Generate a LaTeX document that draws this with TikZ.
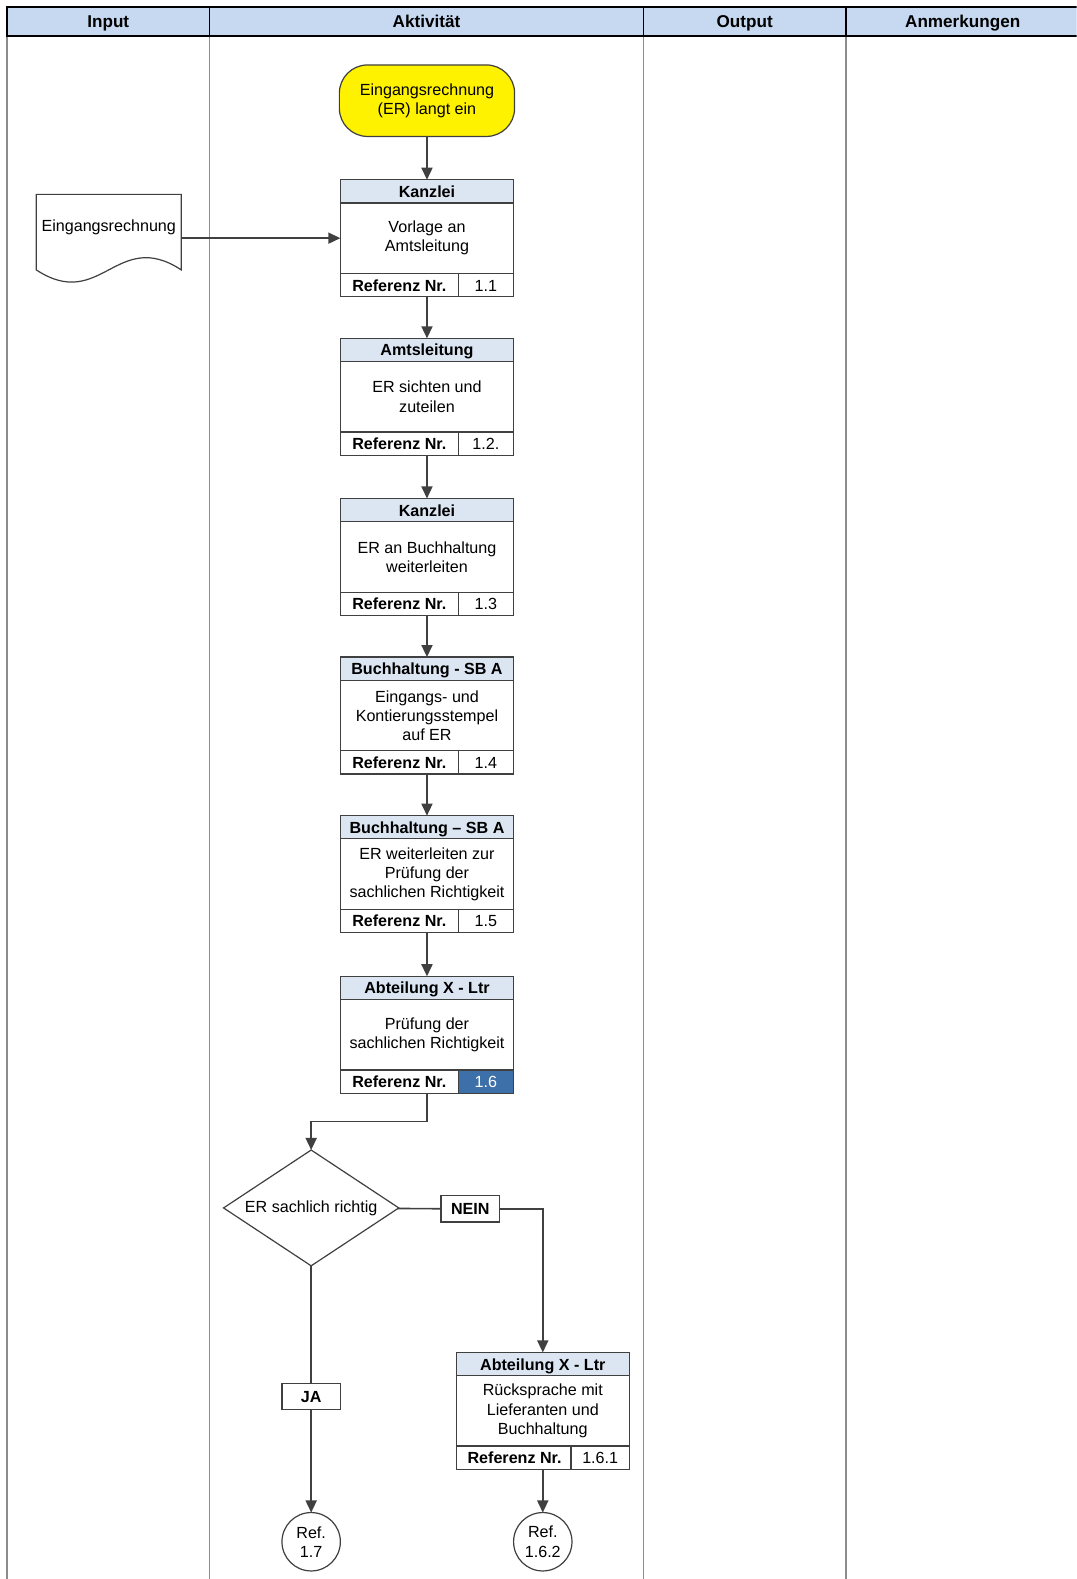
\documentclass[tikz,border=0pt]{standalone}
\usepackage{fontspec}
\setmainfont{Liberation Sans}
\usetikzlibrary{shapes.geometric,arrows.meta,positioning,calc}
\definecolor{fcdark}{RGB}{64,64,64}
\definecolor{fcgray}{RGB}{140,140,140}
\definecolor{fchead}{RGB}{198,217,241}
\definecolor{fcstrip}{RGB}{220,230,242}
\definecolor{fcblue}{RGB}{61,112,168}
\newcommand{\fcfont}{\fontsize{16}{19}\selectfont}

\begin{document}
\begin{tikzpicture}[x=1pt,y=-1pt,
  every node/.style={font=\fcfont,outer sep=0pt,inner sep=0pt},
  oneline/.style={text height=12pt,text depth=0pt},
  colhd/.style={oneline,draw=black,line width=1.5pt,fill=fchead,minimum height=29pt,
                font=\fontsize{17}{20}\selectfont\bfseries},
  col/.style={draw=fcgray,line width=1.2pt},
  hd/.style={oneline,draw=fcdark,line width=1.2pt,fill=fcstrip,minimum width=172pt,
             minimum height=23pt,font=\fcfont\bfseries},
  bd/.style={draw=fcdark,line width=1.2pt,fill=white,minimum width=172pt,
             minimum height=70pt,align=center},
  refl/.style={oneline,draw=fcdark,line width=1.2pt,fill=white,minimum width=117pt,
               minimum height=23pt,font=\fcfont\bfseries},
  refn/.style={oneline,draw=fcdark,line width=1.2pt,fill=white,minimum width=55pt,
               minimum height=23pt},
  term/.style={draw=fcdark,line width=1.2pt,fill=yellow,rounded corners=28pt,
               minimum width=174pt,minimum height=71pt,align=center},
  docbox/.style={minimum width=144pt,minimum height=75pt},
  docline/.style={draw=fcdark,line width=1.2pt,fill=white},
  dec/.style={diamond,aspect=1.5,draw=fcdark,line width=1.2pt,fill=white,
              minimum width=174pt,minimum height=115pt},
  tag/.style={oneline,draw=fcdark,line width=1.2pt,fill=white,minimum width=58pt,
              minimum height=26pt,font=\fcfont\bfseries},
  refc/.style={circle,draw=fcdark,line width=1.2pt,fill=white,minimum size=58pt,
               align=center},
  conn/.style={draw=fcdark,line width=1.6pt},
  arr/.style={conn,-{Triangle[length=12pt,width=11pt]}}]

  \useasboundingbox (0,0) rectangle (1069,1568);
  \clip (0,0) rectangle (1069,1568);

  % swimlanes
  \draw[col] (7,36) -- (7,1575);
  \draw[col] (208,36) -- (208,1575);
  \draw[col] (639,36) -- (639,1575);
  \draw[col] (840,36) -- (840,1575);
  \node[colhd,minimum width=201pt] (hin) at (107.5,21.5) {Input};
  \node[colhd,minimum width=431pt] (hakt) at (423.5,21.5) {Aktivität};
  \node[colhd,minimum width=201pt] (hout) at (739.5,21.5) {Output};
  \node[colhd,minimum width=232pt] (hanm) at (956,21.5) {Anmerkungen};

  % start
  \node[term] (start) at (424,100) {Eingangsrechnung\\(ER) langt ein};

  % input document
  \node[docbox] (doc) at (108,230.5) {};
  \draw[docline] (doc.south west) -- (doc.north west) -- (doc.north east) -- (doc.south east)
    .. controls ($(doc.south east)+(-64,-42)$) and ($(doc.south west)+(64,42)$) .. (doc.south west) -- cycle;
  \node (doctxt) at (108,226) {Eingangsrechnung};

  % 1.1
  \node[hd] (vorlh) at (424,190) {Kanzlei};
  \node[bd,below=0pt of vorlh] (vorlb) {Vorlage an\\Amtsleitung};
  \node[refl,anchor=north west] (vorll) at (vorlb.south west) {Referenz Nr.};
  \node[refn,anchor=north east] (vorln) at (vorlb.south east) {1.1};

  % 1.2
  \node[hd] (sichh) at (424,347.5) {Amtsleitung};
  \node[bd,below=0pt of sichh] (sichb) {ER sichten und\\zuteilen};
  \node[refl,anchor=north west] (sichl) at (sichb.south west) {Referenz Nr.};
  \node[refn,anchor=north east] (sichn) at (sichb.south east) {1.2.};

  % 1.3
  \node[hd] (weith) at (424,506.5) {Kanzlei};
  \node[bd,below=0pt of weith] (weitb) {ER an Buchhaltung\\weiterleiten};
  \node[refl,anchor=north west] (weitl) at (weitb.south west) {Referenz Nr.};
  \node[refn,anchor=north east] (weitn) at (weitb.south east) {1.3};

  % 1.4
  \node[hd] (stemh) at (424,664) {Buchhaltung - SB A};
  \node[bd,below=0pt of stemh] (stemb) {Eingangs- und\\Kontierungsstempel\\auf ER};
  \node[refl,anchor=north west] (steml) at (stemb.south west) {Referenz Nr.};
  \node[refn,anchor=north east] (stemn) at (stemb.south east) {1.4};

  % 1.5
  \node[hd] (zurh) at (424,821.5) {Buchhaltung – SB A};
  \node[bd,below=0pt of zurh] (zurb) {ER weiterleiten zur\\Prüfung der\\sachlichen Richtigkeit};
  \node[refl,anchor=north west] (zurl) at (zurb.south west) {Referenz Nr.};
  \node[refn,anchor=north east] (zurn) at (zurb.south east) {1.5};

  % 1.6
  \node[hd] (prufh) at (424,981) {Abteilung X - Ltr};
  \node[bd,below=0pt of prufh] (prufb) {Prüfung der\\sachlichen Richtigkeit};
  \node[refl,anchor=north west] (prufl) at (prufb.south west) {Referenz Nr.};
  \node[refn,anchor=north east,fill=fcblue,text=white] (prufn) at (prufb.south east) {1.6};

  % decision
  \node[dec] (chk) at (309,1199.5) {ER sachlich richtig};
  \node[tag] (nein) at (467,1200.5) {NEIN};
  \node[tag] (ja) at (309,1386.5) {JA};

  % 1.6.1
  \node[hd] (rueh) at (539,1354.5) {Abteilung X - Ltr};
  \node[bd,below=0pt of rueh] (rueb) {Rücksprache mit\\Lieferanten und\\Buchhaltung};
  \node[refl,anchor=north west,minimum width=116pt] (ruel) at (rueb.south west) {Referenz Nr.};
  \node[refn,anchor=north east,minimum width=58pt] (ruen) at (rueb.south east) {1.6.1};

  % references
  \node[refc] (r17) at (309,1531) {Ref.\\1.7};
  \node[refc] (r162) at (539,1531) {Ref.\\1.6.2};

  % connectors
  \draw[arr] (start) -- (vorlh);
  \draw[arr] (doc.east |- vorlb) -- (vorlb);
  \draw[arr] (vorlb.south |- vorll.south) -- (sichh);
  \draw[arr] (sichb.south |- sichl.south) -- (weith);
  \draw[arr] (weitb.south |- weitl.south) -- (stemh);
  \draw[arr] (stemb.south |- steml.south) -- (zurh);
  \draw[arr] (zurb.south |- zurl.south) -- (prufh);
  \draw[arr] (prufb.south |- prufl.south) -- ++(0,28) -| (chk);
  \draw[conn] (chk) -- (nein);
  \draw[arr] (nein) -| (rueh);
  \draw[conn] (chk) -- (ja);
  \draw[arr] (ja) -- (r17);
  \draw[arr] (rueb.south |- ruel.south) -- (r162);
\end{tikzpicture}
\end{document}
